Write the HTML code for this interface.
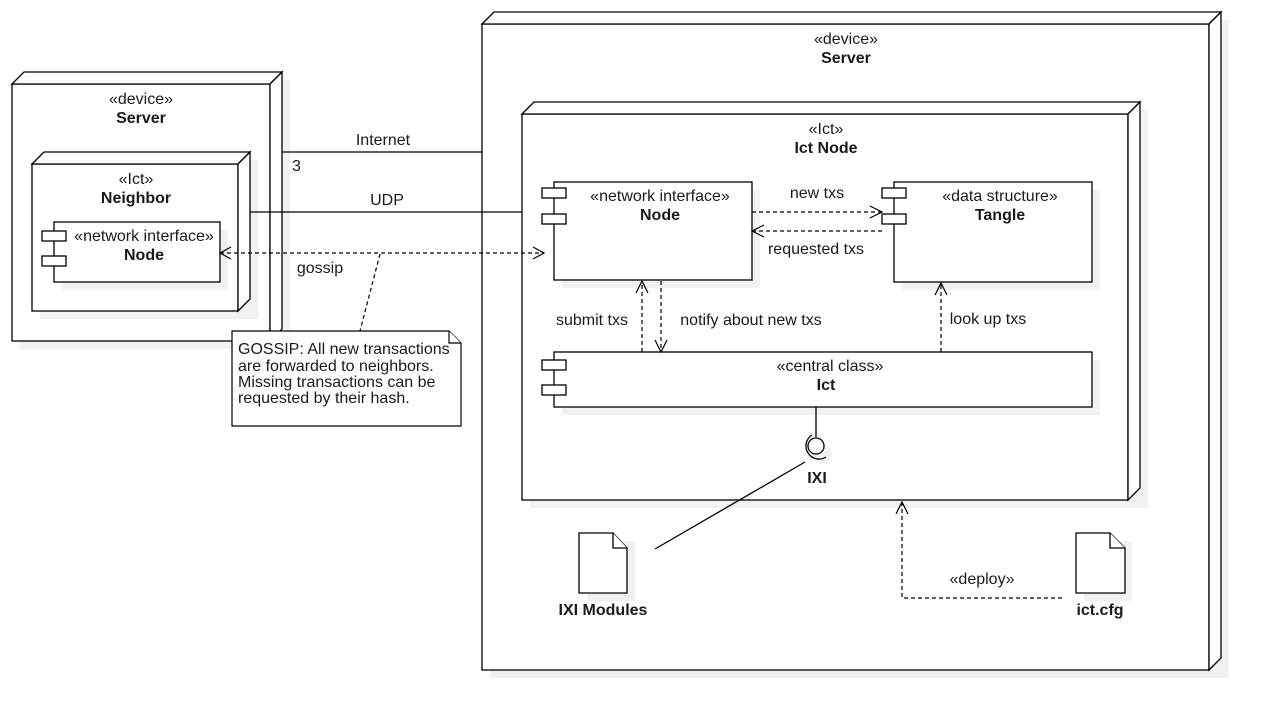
<!DOCTYPE html>
<html><head><meta charset="utf-8"><style>
html,body{margin:0;padding:0;background:#fff;}
svg{display:block;}
text{font-family:"Liberation Sans",Arial,sans-serif;font-size:16px;fill:#1a1a1a;}
.b{font-weight:bold;}
</style></head><body>
<svg width="1272" height="722" viewBox="0 0 1272 722" xmlns="http://www.w3.org/2000/svg">
<g fill="#f1f1f1" stroke="none">
<rect x="20" y="80" width="270" height="269"/>
<rect x="490" y="20" width="739" height="658"/>
</g>
<!-- left server -->
<g stroke="#000" stroke-width="1.3" fill="#fff">
<rect x="12" y="84" width="258" height="257"/>
<polygon points="12,84 24,72 282,72 270,84"/>
<polygon points="270,84 282,72 282,329 270,341"/>
</g>
<rect x="40" y="160" width="218" height="159" fill="#f1f1f1"/>
<g stroke="#000" stroke-width="1.3" fill="#fff">
<rect x="32" y="164" width="206" height="147"/>
<polygon points="32,164 44,152 250,152 238,164"/>
<polygon points="238,164 250,152 250,299 238,311"/>
</g>
<rect x="62" y="230" width="166" height="60" fill="#f1f1f1"/>
<g stroke="#000" stroke-width="1.3" fill="#fff">
<rect x="54" y="222" width="166" height="60"/>
<rect x="42" y="231" width="24" height="10"/>
<rect x="42" y="256" width="24" height="10"/>
</g>
<text x="141" y="104" text-anchor="middle">«device»</text>
<text x="141" y="123" text-anchor="middle" class="b">Server</text>
<text x="136" y="184" text-anchor="middle">«Ict»</text>
<text x="136" y="203" text-anchor="middle" class="b">Neighbor</text>
<text x="144" y="241" text-anchor="middle">«network interface»</text>
<text x="144" y="260" text-anchor="middle" class="b">Node</text>

<!-- right server -->
<g stroke="#000" stroke-width="1.3" fill="#fff">
<rect x="482" y="24" width="727" height="646"/>
<polygon points="482,24 494,12 1221,12 1209,24"/>
<polygon points="1209,24 1221,12 1221,658 1209,670"/>
</g>
<rect x="530" y="110" width="618" height="398" fill="#f1f1f1"/>
<g stroke="#000" stroke-width="1.3" fill="#fff">
<rect x="522" y="114" width="606" height="386"/>
<polygon points="522,114 534,102 1140,102 1128,114"/>
<polygon points="1128,114 1140,102 1140,488 1128,500"/>
</g>
<text x="846" y="44" text-anchor="middle">«device»</text>
<text x="846" y="63" text-anchor="middle" class="b">Server</text>
<text x="826" y="134" text-anchor="middle">«Ict»</text>
<text x="826" y="153" text-anchor="middle" class="b">Ict Node</text>

<g fill="#f1f1f1">
<rect x="562" y="190" width="198" height="98"/>
<rect x="902" y="190" width="198" height="100"/>
<rect x="562" y="360" width="538" height="55"/>
<circle cx="822" cy="454" r="10"/>
<rect x="587" y="541" width="48" height="60"/>
<rect x="1084" y="541" width="48" height="60"/>
</g>
<g stroke="#000" stroke-width="1.3" fill="#fff">
<rect x="554" y="182" width="198" height="98"/>
<rect x="542" y="188" width="24" height="10"/>
<rect x="542" y="214" width="24" height="10"/>
<rect x="894" y="182" width="198" height="100"/>
<rect x="882" y="188" width="24" height="10"/>
<rect x="882" y="214" width="24" height="10"/>
<rect x="554" y="352" width="538" height="55"/>
<rect x="542" y="360" width="24" height="10"/>
<rect x="542" y="385" width="24" height="10"/>
</g>
<text x="660" y="201" text-anchor="middle">«network interface»</text>
<text x="660" y="220" text-anchor="middle" class="b">Node</text>
<text x="1000" y="201" text-anchor="middle">«data structure»</text>
<text x="1000" y="220" text-anchor="middle" class="b">Tangle</text>
<text x="830" y="371" text-anchor="middle">«central class»</text>
<text x="826" y="390" text-anchor="middle" class="b">Ict</text>

<!-- IXI -->
<g stroke="#000" stroke-width="1.3" fill="none">
<line x1="816" y1="407" x2="816" y2="437"/>
<circle cx="816" cy="446" r="8" fill="#fff"/>
<path d="M812,435 A11,11 0 0 0 826,457"/>
<line x1="805" y1="462" x2="655" y2="549"/>
</g>
<text x="817" y="483" text-anchor="middle" class="b">IXI</text>

<!-- documents -->
<g stroke="#000" stroke-width="1.3" fill="#fff">
<path d="M579,533 H613 L627,548 V593 H579 Z"/>
<path d="M613,533 V548 H627"/>
<path d="M1076,533 H1110 L1125,548 V593 H1076 Z"/>
<path d="M1110,533 V548 H1125"/>
</g>
<text x="603" y="615" text-anchor="middle" class="b">IXI Modules</text>
<text x="1100" y="615" text-anchor="middle" class="b">ict.cfg</text>

<!-- connectors -->
<g stroke="#000" stroke-width="1.2" fill="none">
<line x1="282" y1="152" x2="482" y2="152"/>
<line x1="250" y1="212" x2="522" y2="212"/>
<g stroke-dasharray="4,3">
<line x1="220" y1="253" x2="544" y2="253"/>
<line x1="380" y1="254" x2="360" y2="331"/>
<line x1="752" y1="212" x2="882" y2="212"/>
<line x1="882" y1="231" x2="752" y2="231"/>
<line x1="642" y1="352" x2="642" y2="281"/>
<line x1="661" y1="281" x2="661" y2="352"/>
<line x1="941" y1="352" x2="941" y2="283"/>
<polyline points="1062,598 902,598 902,502"/>
</g>
<polyline points="231,247 220,253 231,259"/>
<polyline points="533,247 544,253 533,259"/>
<polyline points="870,206 882,212 870,218"/>
<polyline points="764,225 752,231 764,237"/>
<polyline points="636,293 642,281 648,293"/>
<polyline points="655,340 661,352 667,340"/>
<polyline points="935,295 941,283 947,295"/>
<polyline points="896,514 902,502 908,514"/>
</g>
<text x="383" y="145" text-anchor="middle">Internet</text>
<text x="292" y="171">3</text>
<text x="387" y="205" text-anchor="middle">UDP</text>
<text x="320" y="273" text-anchor="middle">gossip</text>
<text x="817" y="198" text-anchor="middle">new txs</text>
<text x="816" y="254" text-anchor="middle">requested txs</text>
<text x="592" y="325" text-anchor="middle">submit txs</text>
<text x="751" y="325" text-anchor="middle">notify about new txs</text>
<text x="988" y="324" text-anchor="middle">look up txs</text>
<text x="982" y="584" text-anchor="middle">«deploy»</text>

<!-- note -->
<g stroke="#000" stroke-width="1.2" fill="#fff">
<path d="M232,331 H449 L461,343 V426 H232 Z"/>
<path d="M449,331 V343 H461"/>
</g>
<text x="238" y="354">GOSSIP: All new transactions</text>
<text x="238" y="371">are forwarded to neighbors.</text>
<text x="238" y="387">Missing transactions can be</text>
<text x="238" y="403">requested by their hash.</text>
</svg>
</body></html>
